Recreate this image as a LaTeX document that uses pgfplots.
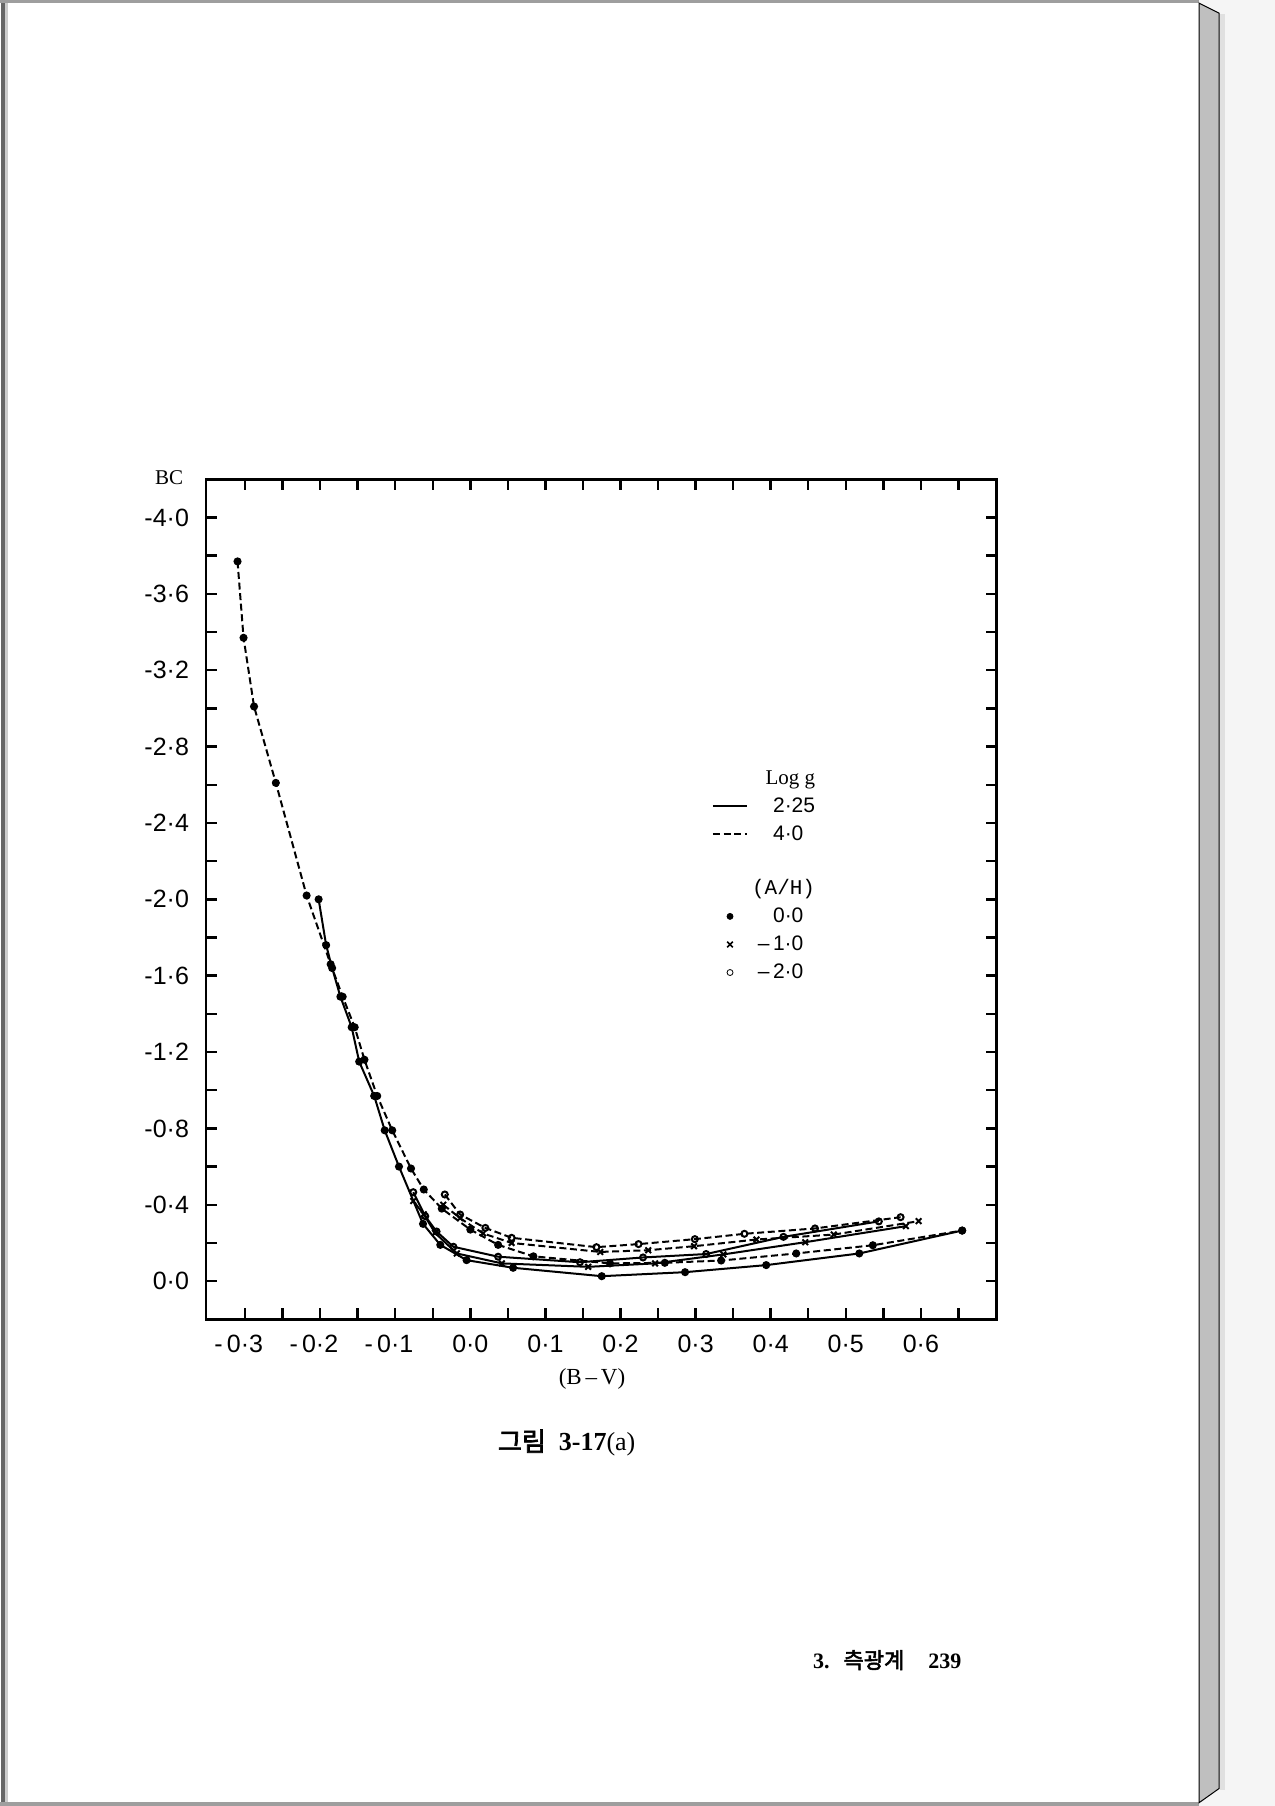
\documentclass[border=0pt]{standalone}
\usepackage{fontspec}
\usepackage{pgfplots}
\pgfplotsset{compat=1.18}
\setmainfont{Liberation Serif}
\setsansfont{Liberation Sans}
\setmonofont{Liberation Mono}
\newfontfamily\cjk[AutoFakeBold=2.5]{Noto Sans CJK KR}
\begin{document}
\begin{tikzpicture}
\useasboundingbox (0,0) rectangle (637.5pt,-903pt);
% page background
\fill[black!4] (0,0) rectangle (637.5pt,-903pt);
\fill[white] (0,0) rectangle (599.6pt,-901.5pt);
\fill[black!38] (0,0) rectangle (599.6pt,-1.6pt);
\fill[black!60] (0.5pt,-1.6pt) rectangle (2.6pt,-901.5pt);
\fill[black!20] (2.6pt,-1.6pt) rectangle (4pt,-901.5pt);
\fill[black!38] (0,-901.2pt) rectangle (599.6pt,-903pt);
\fill[black!12] (610pt,-7pt) rectangle (612.5pt,-895pt);
\filldraw[fill=black!25, draw=black, line width=0.5pt] (599.6pt,-1.6pt) -- (609.6pt,-6.6pt) -- (609.6pt,-894.2pt) -- (599.6pt,-901.3pt) -- cycle;

\begin{axis}[
  at={(103pt,-239.65pt)}, anchor=north west,
  scale only axis, width=395.35pt, height=420pt,
  xmin=-0.352, xmax=0.701, ymin=-4.2, ymax=0.2, y dir=reverse,
  axis line style={line width=1.4pt},
  tick align=inside,
  every tick/.style={line width=1.2pt, black},
  major tick length=5.5pt, minor tick length=5.5pt,
  xtick={-0.3,-0.2,-0.1,0,0.1,0.2,0.3,0.4,0.5,0.6},
  minor xtick={-0.25,-0.15,-0.05,0.05,0.15,0.25,0.35,0.45,0.55,0.65},
  xticklabels={\llap{-\,}0·3,\llap{-\,}0·2,\llap{-\,}0·1,0·0,0·1,0·2,0·3,0·4,0·5,0·6},
  ytick={-4,-3.6,-3.2,-2.8,-2.4,-2,-1.6,-1.2,-0.8,-0.4,0},
  minor ytick={-3.8,-3.4,-3.0,-2.6,-2.2,-1.8,-1.4,-1.0,-0.6,-0.2},
  yticklabels={-4·0,-3·6,-3·2,-2·8,-2·4,-2·0,-1·6,-1·2,-0·8,-0·4,0·0},
  ticklabel style={font=\fontsize{12.5}{14}\selectfont\sffamily},
  xticklabel style={yshift=-4.5pt},
  yticklabel style={xshift=-5pt},
  xlabel={(B\,–\,V)},
  xlabel style={font=\fontsize{11.5}{13}\selectfont\rmfamily, at={(axis cs:0.162,0.513)}, anchor=center},
  ylabel={BC},
  ylabel style={font=\fontsize{10.5}{12}\selectfont\rmfamily, rotate=-90, at={(axis cs:-0.401,-4.207)}, anchor=center},
  clip=false,
  legend style={at={(axis cs:0.473,-2.72)}, anchor=north east, draw=none, fill=none,
    font=\fontsize{10.5}{12}\selectfont\sffamily, row sep=1.2pt},
  legend cell align=right,
]
% legend
\addlegendimage{empty legend}\addlegendentry{\rmfamily Log g}
\addlegendimage{black, line width=1pt}\addlegendentry{2·25}
\addlegendimage{black, line width=1pt, dash pattern=on 3.5pt off 1.8pt}\addlegendentry{4·0\phantom{5}}
\addlegendimage{empty legend}\addlegendentry{\rule{0pt}{6pt}}
\addlegendimage{empty legend}\addlegendentry{\ttfamily (A/H)}
\addlegendimage{only marks, mark=*, mark size=1.5pt, black}\addlegendentry{0·0\phantom{5}}
\addlegendimage{only marks, mark=x, mark size=2pt, black, thick}\addlegendentry{–\,1·0\phantom{5}}
\addlegendimage{only marks, mark=o, mark size=1.5pt, black}\addlegendentry{–\,2·0\phantom{5}}

% log g = 2.25, [A/H] = 0.0
\addplot[black, line width=1pt, mark=*, mark size=1.5pt, forget plot] coordinates {
(-0.202,-2.00) (-0.192,-1.76) (-0.184,-1.64) (-0.173,-1.49) (-0.158,-1.33)
(-0.148,-1.15) (-0.128,-0.97) (-0.114,-0.79) (-0.095,-0.60) (-0.063,-0.30)
(-0.040,-0.19) (-0.005,-0.11) (0.057,-0.07) (0.175,-0.026) (0.286,-0.047)
(0.394,-0.084) (0.518,-0.145) (0.655,-0.265)};
% log g = 4.0, [A/H] = 0.0
\addplot[black, line width=1pt, dash pattern=on 3.5pt off 1.8pt, mark=*, mark size=1.5pt, mark options={solid}, forget plot] coordinates {
(-0.310,-3.77) (-0.302,-3.37) (-0.288,-3.01) (-0.259,-2.61) (-0.218,-2.02)
(-0.186,-1.66) (-0.170,-1.49) (-0.154,-1.33) (-0.141,-1.16) (-0.124,-0.97)
(-0.104,-0.79) (-0.079,-0.59) (-0.062,-0.48) (-0.038,-0.38) (0.000,-0.27)
(0.037,-0.19) (0.084,-0.13) (0.186,-0.093) (0.259,-0.096) (0.334,-0.108)
(0.434,-0.145) (0.536,-0.188) (0.655,-0.265)};
% log g = 2.25, [A/H] = -1.0
\addplot[black, line width=1pt, mark=x, mark size=2pt, forget plot] coordinates {
(-0.076,-0.42) (-0.062,-0.35) (-0.047,-0.253) (-0.018,-0.145) (0.042,-0.093)
(0.157,-0.075) (0.246,-0.093) (0.337,-0.14) (0.446,-0.204) (0.580,-0.288)};
% log g = 2.25, [A/H] = -2.0
\addplot[black, line width=1pt, mark=o, mark size=1.5pt, forget plot] coordinates {
(-0.076,-0.466) (-0.060,-0.34) (-0.045,-0.26) (-0.0225,-0.18) (0.037,-0.128)
(0.146,-0.099) (0.230,-0.124) (0.314,-0.142) (0.417,-0.232) (0.544,-0.313)};
% log g = 4.0, [A/H] = -1.0
\addplot[black, line width=1pt, dash pattern=on 3.5pt off 1.8pt, mark=x, mark size=2pt, mark options={solid}, forget plot] coordinates {
(-0.036,-0.40) (-0.0136,-0.33) (0.017,-0.25) (0.055,-0.20) (0.173,-0.153)
(0.237,-0.162) (0.298,-0.183) (0.381,-0.218) (0.484,-0.244) (0.597,-0.314)};
% log g = 4.0, [A/H] = -2.0
\addplot[black, line width=1pt, dash pattern=on 3.5pt off 1.8pt, mark=o, mark size=1.5pt, mark options={solid}, forget plot] coordinates {
(-0.034,-0.454) (-0.0136,-0.349) (0.020,-0.279) (0.055,-0.227) (0.168,-0.178)
(0.224,-0.194) (0.299,-0.220) (0.365,-0.248) (0.459,-0.276) (0.573,-0.335)};
\end{axis}

% caption and running footer
\node[font=\fontsize{13}{15}\selectfont] at (283.35pt,-721.5pt) {{\cjk\bfseries 그림}\ \ {\bfseries 3-17}(a)};
\node[anchor=west, font=\fontsize{11}{13}\selectfont] at (403pt,-830pt) {{\bfseries 3.}\hspace{7pt}{\cjk\bfseries 측광계}\hspace{12pt}{\bfseries 239}};
\end{tikzpicture}
\end{document}
